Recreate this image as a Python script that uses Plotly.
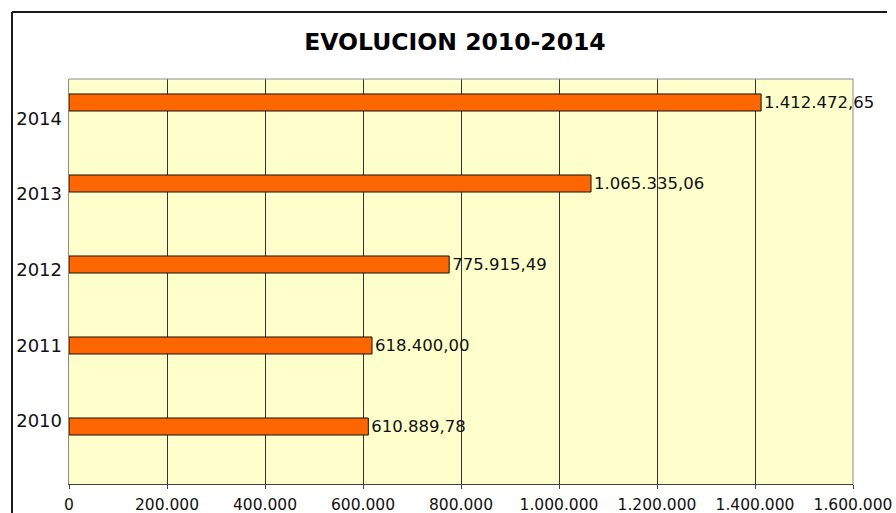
import plotly.graph_objects as go

years = ["2010", "2011", "2012", "2013", "2014"]
values = [610889.78, 618400.00, 775915.49, 1065335.06, 1412472.65]
x_ticks = [0, 200000, 400000, 600000, 800000, 1000000, 1200000, 1400000, 1600000]
title_text = "EVOLUCION 2010-2014"


def fmt_es(v):
    s = f"{v:,.2f}"
    return s.replace(",", "X").replace(".", ",").replace("X", ".")


labels = [fmt_es(v) for v in values]

W, H = 896, 513
L, R, T, B = 69, 43, 79, 29

fig = go.Figure()
fig.add_trace(go.Bar(
    y=years, x=values, orientation="h",
    width=0.21, offset=0.105,
    marker=dict(color="#FF6600", line=dict(color="#111111", width=1)),
    text=labels, textposition="outside", cliponaxis=False,
    constraintext="none",
    textfont=dict(family="DejaVu Sans", size=16.5, color="#111111"),
    hoverinfo="skip", showlegend=False,
))
# invisible helper trace carrying the category labels axis
fig.add_trace(go.Scatter(
    x=[0] * len(years), y=list(range(len(years))), yaxis="y2",
    mode="markers", marker=dict(opacity=0), hoverinfo="skip", showlegend=False,
))

fig.update_layout(
    width=W, height=H,
    margin=dict(l=L, r=R, t=T, b=B, pad=0, autoexpand=False),
    paper_bgcolor="white",
    plot_bgcolor="#FFFFCC",
    separators=",.",
    bargap=0,
    title=dict(text="<b>" + title_text + "</b>", x=455 / W, xanchor="center",
               y=1 - 42 / H, yanchor="middle", xref="container", automargin=False,
               font=dict(family="DejaVu Sans", size=23.5, color="black")),
    xaxis=dict(
        range=[0, 1600000], tickvals=x_ticks, tickformat=",d",
        showgrid=True, gridcolor="#333333", gridwidth=1,
        showline=True, linecolor="#404040", linewidth=1,
        ticks="outside", ticklen=4, tickcolor="#404040",
        ticklabelstandoff=2,
        tickfont=dict(family="DejaVu Sans", size=15.5, color="#111111"),
        zeroline=False, mirror=False, automargin=False,
    ),
    yaxis=dict(
        type="category", categoryorder="array", categoryarray=years,
        range=[-0.5, 4.5], showticklabels=False, showgrid=False,
        showline=True, linecolor="#8c8c8c", linewidth=1, mirror=False,
        zeroline=False, ticks="", automargin=False,
    ),
    yaxis2=dict(
        overlaying="y", side="left", range=[-0.83, 4.52],
        tickvals=list(range(len(years))), ticktext=years,
        showgrid=False, zeroline=False, showline=False, ticks="",
        ticklabelstandoff=6, automargin=False,
        tickfont=dict(family="DejaVu Sans", size=18, color="#111111"),
    ),
    shapes=[
        # plot area border (top / right) in gray
        dict(type="line", xref="paper", yref="paper", x0=0, x1=1, y0=1, y1=1,
             line=dict(color="#8c8c8c", width=1)),
        dict(type="line", xref="paper", yref="paper", x0=1, x1=1, y0=0, y1=1,
             line=dict(color="#8c8c8c", width=1)),
        # chart outer border (left / top)
        dict(type="line", xref="paper", yref="paper",
             x0=(12 - L) / (W - L - R), x1=(887 - L) / (W - L - R),
             y0=(H - B - 12) / (H - T - B), y1=(H - B - 12) / (H - T - B),
             line=dict(color="#1a1a1a", width=2)),
        dict(type="line", xref="paper", yref="paper",
             x0=(12 - L) / (W - L - R), x1=(12 - L) / (W - L - R),
             y0=(H - B - 12) / (H - T - B), y1=(H - B - 520) / (H - T - B),
             line=dict(color="#1a1a1a", width=2)),
    ],
)

fig.write_html("out.html",
               config={"displayModeBar": False, "staticPlot": True},
               post_script="document.body.style.margin='0px';"
                           "document.body.style.overflow='hidden';")
